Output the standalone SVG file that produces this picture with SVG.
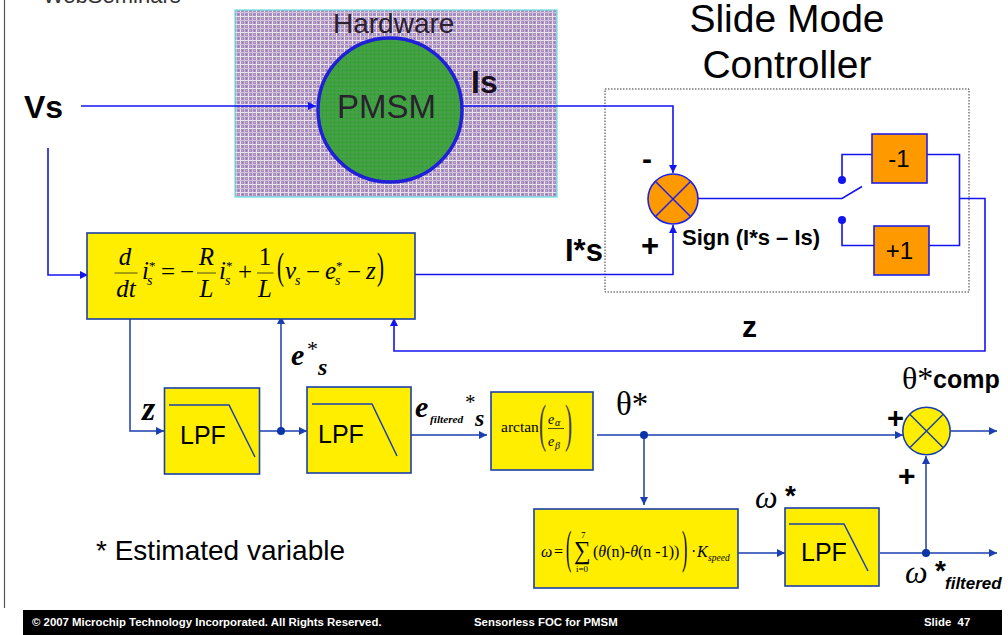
<svg xmlns="http://www.w3.org/2000/svg" width="1008" height="635" viewBox="0 0 1008 635">
<style>
.s{font-family:"Liberation Sans",Arial,sans-serif}
.b{font-family:"Liberation Sans",Arial,sans-serif;font-weight:bold}
.t{font-family:"Liberation Serif","Times New Roman",serif}
.i{font-family:"Liberation Serif","Times New Roman",serif;font-style:italic}
.bi{font-family:"Liberation Serif","Times New Roman",serif;font-style:italic;font-weight:bold}
.f{font-family:"Liberation Sans",Arial,sans-serif;font-weight:bold;font-size:11.4px;fill:#fff;white-space:pre}
.y{fill:#ffee00;stroke:#1a3fa8;stroke-width:1.6}
.o{fill:#ff9900;stroke:#1f1fe8;stroke-width:1.6}
.c{fill:none;stroke:#1a3fb0;stroke-width:1.5}
.c2{fill:none;stroke:#1414f0;stroke-width:1.6}
.m{fill:none;stroke:#222;stroke-width:.8}
</style>
<defs>
<pattern id="hw" width="8" height="8" patternUnits="userSpaceOnUse">
<rect width="8" height="8" fill="#ab93c6"/>
<rect x="0" y="0" width="1" height="8" fill="#e9e2ea"/>
<rect x="4" y="0" width="1" height="8" fill="#cfc0d8"/>
<rect x="0" y="0" width="8" height="1" fill="#e9e2ea"/>
<rect x="0" y="4" width="8" height="1" fill="#cfc0d8"/>
<rect x="2" y="2" width="1" height="1" fill="#7a68bc"/>
<rect x="6" y="6" width="1" height="1" fill="#7a68bc"/>
<rect x="6" y="2" width="1" height="1" fill="#dba77e"/>
<rect x="2" y="6" width="1" height="1" fill="#dba77e"/>
<rect x="3" y="6" width="1" height="1" fill="#8f7cc0"/>
</pattern>
<pattern id="gr" width="4" height="4" patternUnits="userSpaceOnUse">
<rect width="4" height="4" fill="#3fa33f"/>
<rect x="0" y="0" width="1" height="1" fill="#5f8f6a"/>
<rect x="2" y="2" width="1" height="1" fill="#2e8a3a"/>
</pattern>
<marker id="a" markerWidth="9" markerHeight="8" refX="8" refY="4" orient="auto" markerUnits="userSpaceOnUse"><path d="M0 0L8 4L0 8Z" fill="#1a3fb0"/></marker>
<marker id="a2" markerWidth="9" markerHeight="8" refX="8" refY="4" orient="auto" markerUnits="userSpaceOnUse"><path d="M0 0L8 4L0 8Z" fill="#1414f0"/></marker>
</defs>
<rect width="1008" height="635" fill="#fff"/>
<path d="M4.500 0V608" stroke="#555" stroke-width="1.200" fill="none"/>
<text class="s" x="43" y="3" font-size="22" fill="#333">WebSeminars</text>

<g id="hardware">
<rect x="235" y="10" width="322" height="187" fill="url(#hw)" stroke="#66dde0" stroke-width="1.200"/>
<text class="s" x="333" y="33" font-size="28" fill="#2a2030">Hardware</text>
</g>
<g id="pmsm">
<circle cx="390" cy="110" r="72" fill="url(#gr)" stroke="#2020d8" stroke-width="3.500"/>
<text class="s" x="337" y="118" font-size="33" fill="#2a2030">PMSM</text>
</g>
<text class="b" x="471" y="93" font-size="32" fill="#1a1020">Is</text>
<text class="b" x="24" y="118" font-size="32">Vs</text>
<text class="s" x="787" y="32" font-size="39" text-anchor="middle">Slide Mode</text>
<text class="s" x="787" y="78" font-size="39" text-anchor="middle">Controller</text>
<rect id="smc" x="605" y="89" width="364" height="203" fill="none" stroke="#333" stroke-width="1" stroke-dasharray="1.500 1.500"/>

<g id="connectors">
<path class="c2" d="M81 106H316" marker-end="url(#a2)"/>
<path class="c2" d="M48 148V275H88" marker-end="url(#a2)"/>
<path class="c2" d="M463 106H673V173" marker-end="url(#a2)"/>
<path class="c2" d="M414 274.500H673V225" marker-end="url(#a2)"/>
<path class="c2" stroke-width="2" d="M698 198.500H842L862 186.500"/>
<path class="c2" stroke-width="2" d="M842 180V154.500H873"/>
<path class="c2" stroke-width="2" d="M842 220V245.500H874"/>
<path class="c2" stroke-width="2" d="M927 154.500H959.500V245.500H927"/>
<path class="c2" d="M959.500 198.500H985V351H394V318" marker-end="url(#a2)"/>
<path class="c" d="M130 319V431H164" marker-end="url(#a)"/>
<path class="c" d="M256 431H307" marker-end="url(#a)"/>
<path class="c" d="M281 431V316" marker-end="url(#a)"/>
<path class="c" d="M411 435H487" marker-end="url(#a)"/>
<path class="c" d="M597 435H903" marker-end="url(#a)"/>
<path class="c" d="M644 435V505" marker-end="url(#a)"/>
<path class="c" d="M951 431H997" marker-end="url(#a)"/>
<path class="c" d="M738 553H785" marker-end="url(#a)"/>
<path class="c" d="M880 553H997" marker-end="url(#a)"/>
<path class="c" d="M926 553V456" marker-end="url(#a)"/>
<circle cx="842" cy="180" r="4" fill="#1414f0"/>
<circle cx="842" cy="220" r="4" fill="#1414f0"/>
<circle cx="281" cy="431" r="4" fill="#0a35a8"/>
<circle cx="644" cy="435" r="4" fill="#0a35a8"/>
<circle cx="926" cy="553" r="4" fill="#0a35a8"/>
</g>

<g id="sum1">
<circle cx="673" cy="199" r="25" class="o"/>
<path d="M655.500 181.500L690.500 216.500M690.500 181.500L655.500 216.500" stroke="#1f1fe8" stroke-width="1.500"/>
</g>
<text class="b" x="642" y="169" font-size="30">-</text>
<text class="b" x="641" y="256" font-size="31">+</text>
<text class="b" x="565" y="261" font-size="31">I*s</text>
<text class="b" x="682" y="245" font-size="22">Sign (I*s – Is)</text>
<text class="b" x="742" y="337" font-size="30">z</text>

<g id="neg1"><rect x="872" y="134" width="55" height="49" class="o"/><text class="s" x="899" y="167" font-size="24" text-anchor="middle">-1</text></g>
<g id="pos1"><rect x="874" y="226" width="55" height="49" class="o"/><text class="s" x="899.500" y="259" font-size="24" text-anchor="middle">+1</text></g>

<g id="plant">
<rect x="87" y="233" width="328" height="86" class="y"/>
<text class="i" x="125" y="265" font-size="25" text-anchor="middle">d</text>
<path class="m" d="M114.500 273H137.500"/>
<text class="i" x="126" y="297" font-size="25" text-anchor="middle">dt</text>
<text class="i" x="142" y="279" font-size="25">i</text><text class="t" x="149" y="270" font-size="13">*</text><text class="i" x="147" y="285" font-size="14">s</text>
<text class="t" x="161" y="280" font-size="25">=</text><text class="t" x="180" y="280" font-size="25">−</text>
<text class="i" x="206.500" y="265" font-size="25" text-anchor="middle">R</text>
<path class="m" d="M197 273H216"/>
<text class="i" x="206.500" y="297" font-size="25" text-anchor="middle">L</text>
<text class="i" x="219" y="279" font-size="25">i</text><text class="t" x="226" y="270" font-size="13">*</text><text class="i" x="225" y="285" font-size="14">s</text>
<text class="t" x="238" y="280" font-size="25">+</text>
<text class="t" x="265" y="265" font-size="25" text-anchor="middle">1</text>
<path class="m" d="M257 273H273.500"/>
<text class="i" x="265" y="297" font-size="25" text-anchor="middle">L</text>
<text class="t" transform="translate(277 279) scale(1 1.850)" font-size="21">(</text>
<text class="i" x="285" y="279" font-size="25">v</text><text class="i" x="295" y="285" font-size="14">s</text>
<text class="t" x="306" y="280" font-size="25">−</text>
<text class="i" x="325" y="279" font-size="25">e</text><text class="t" x="336" y="270" font-size="13">*</text><text class="i" x="335" y="285" font-size="14">s</text>
<text class="t" x="347" y="280" font-size="25">−</text>
<text class="i" x="366" y="279" font-size="25">z</text>
<text class="t" transform="translate(377 279) scale(1 1.850)" font-size="21">)</text>
</g>

<g id="lpf1"><rect x="164.500" y="388" width="95" height="86" class="y"/><path class="c" d="M169 405H229L255 457"/><text class="s" x="180" y="444" font-size="25">LPF</text></g>
<g id="lpf2"><rect x="307" y="387" width="104" height="86" class="y"/><path class="c" d="M312 404H372L397 456"/><text class="s" x="318" y="443" font-size="25">LPF</text></g>
<text class="bi" x="142" y="420" font-size="34">z</text>
<text class="bi" x="291" y="365" font-size="30">e</text><text class="t" x="307" y="356" font-size="22">*</text><text class="bi" x="318" y="375" font-size="24">s</text>
<text class="bi" x="415" y="417" font-size="30">e</text><text class="bi" x="430" y="423" font-size="11.300">filtered</text><text class="t" x="465" y="409" font-size="21">*</text><text class="bi" x="475" y="426" font-size="24">s</text>

<g id="arctan"><rect x="491" y="392" width="102" height="78" class="y"/>
<text class="t" x="501" y="432" font-size="15.500">arctan</text>
<text class="t" transform="translate(539 441) scale(.9 2.200)" font-size="24" fill="#444">(</text>
<text class="i" x="548" y="424" font-size="14">e</text><text class="i" x="555" y="426" font-size="10">α</text>
<path class="m" d="M548 428.500H564"/>
<text class="i" x="548" y="446" font-size="14">e</text><text class="i" x="555" y="449" font-size="10">β</text>
<text class="t" transform="translate(565 441) scale(.9 2.200)" font-size="24" fill="#444">)</text>
</g>
<text class="t" x="616" y="415" font-size="33">θ*</text>

<g id="sum2"><circle cx="926.500" cy="431" r="23.700" class="y"/><path d="M910 414.500L943 447.500M943 414.500L910 447.500" stroke="#1a3fa8" stroke-width="1.500"/></g>
<text class="t" x="902" y="389" font-size="32">θ*</text><text class="b" x="933" y="388" font-size="25">comp</text>
<text class="b" x="887" y="428" font-size="29">+</text>
<text class="b" x="898" y="486" font-size="30">+</text>

<g id="speed"><rect x="534" y="509" width="204" height="79" class="y"/>
<text class="i" x="541" y="557" font-size="16">ω</text><text class="t" x="554" y="557" font-size="16">=</text>
<text class="t" transform="translate(566 563) scale(1 2.850)" font-size="16">(</text>
<text class="t" transform="translate(574 559) scale(.9 1)" font-size="26">∑</text>
<text class="t" x="581" y="538" font-size="9">7</text><text class="t" x="576" y="572" font-size="9">i=0</text>
<text class="t" x="593" y="557" font-size="16">(<tspan font-style="italic">θ</tspan>(n)-<tspan font-style="italic">θ</tspan>(n -1))</text>
<text class="t" transform="translate(682 563) scale(1 2.850)" font-size="16">)</text>
<text class="t" x="691" y="557" font-size="16">·</text>
<text class="i" x="697" y="557" font-size="16">K</text><text class="i" x="708" y="561" font-size="9.500">speed</text>
</g>
<g id="lpf3"><rect x="785" y="508" width="94" height="78" class="y"/><path class="c" d="M789 524H844L868 571"/><text class="s" x="801" y="561" font-size="25">LPF</text></g>
<text class="i" x="755" y="508" font-size="32">ω</text><text class="b" x="785" y="505" font-size="28">*</text>
<text class="i" x="905" y="583" font-size="32">ω</text><text class="b" x="935" y="580" font-size="28">*</text>
<text class="b" x="945" y="589" font-size="17" font-style="italic">filtered</text>
<text class="s" x="96" y="560" font-size="28">* Estimated variable</text>

<g id="footer">
<rect x="23" y="610" width="979" height="25" fill="#000"/>
<text class="f" x="32" y="626">© 2007 Microchip Technology Incorporated. All Rights Reserved.</text>
<text class="f" x="474" y="626">Sensorless FOC for PMSM</text>
<text class="f" x="924" y="626">Slide  47</text>
</g>
</svg>
